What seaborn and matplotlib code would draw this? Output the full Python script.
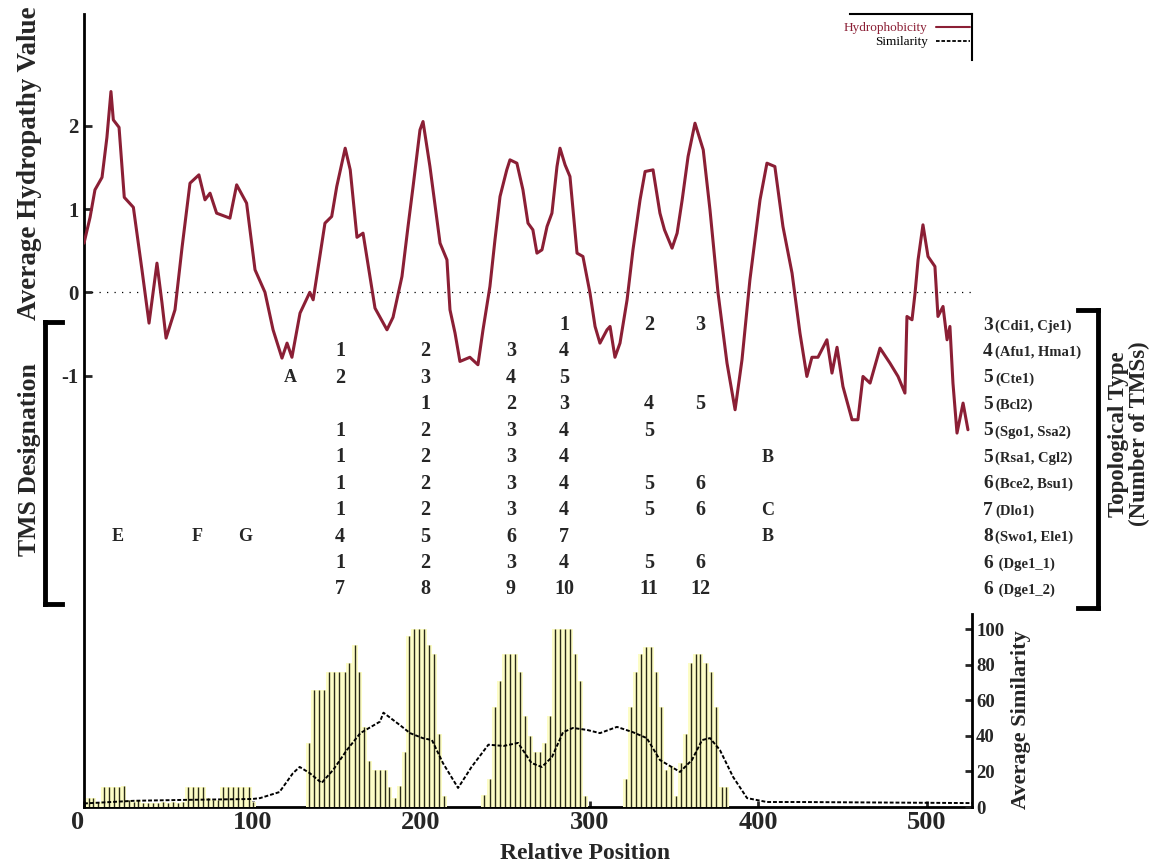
import matplotlib
matplotlib.use("Agg")
import matplotlib.pyplot as plt
import seaborn as sns
from matplotlib.lines import Line2D

# ---------------- data ----------------
hydro_pos = [0, 3.6, 6.5, 10.7, 13.6, 16, 17.4, 20.8, 23.9, 29.3,
             34.4, 38.6, 43.3, 46.3, 48.7, 54, 58.2, 62.9, 68.2, 71.8,
             74.8, 78.7, 86.6, 90.6, 96.5, 101.5, 107.4, 112.2, 117.5, 120.5,
             123.4, 128.2, 134, 136, 143, 147, 150, 155, 158, 162,
             165.6, 169.7, 172.7, 179.8, 183.4, 188.7, 192.3, 195.3, 199.4, 201.2,
             205.3, 211.3, 215.4, 217.2, 220.2, 223.1, 229, 233.8, 236.8, 240.9,
             243.9, 246.9, 250.9, 252.8, 256.9, 260.5, 263.5, 266.4, 268.8, 271.8,
             274.8, 277.7, 280.7, 282.5, 285.5, 288.4, 292.6, 296.1, 300.3, 303.3,
             306.2, 310.4, 312.2, 315.1, 318.1, 322.3, 325.8, 330, 333, 337.7,
             341.8, 344.5, 349, 352, 355, 358.5, 362.6, 367.5, 371.5, 376.3,
             381.6, 386.4, 390.5, 395.2, 401.2, 405.3, 410, 414.8, 420.2, 424.9,
             429, 432, 435.6, 440.9, 443.9, 446.9, 450.4, 455.8, 459.3, 462.3,
             466.5, 472.4, 478.3, 483.1, 487.2, 488.4, 491.4, 493.2, 495, 497.9,
             500.9, 505, 506.8, 509.8, 512.2, 513.9, 515.7, 518.1, 521.7, 524.6]
hydro_val = [0.59, 0.9, 1.23, 1.38, 1.86, 2.41, 2.07, 1.98, 1.14, 1.02,
             0.27, -0.37, 0.35, -0.13, -0.55, -0.21, 0.54, 1.31, 1.41, 1.11,
             1.19, 0.95, 0.89, 1.29, 1.07, 0.27, 0.0, -0.45, -0.79, -0.61,
             -0.78, -0.25, 0.0, -0.09, 0.83, 0.91, 1.27, 1.73, 1.47, 0.66,
             0.71, 0.19, -0.19, -0.45, -0.3, 0.19, 0.79, 1.27, 1.95, 2.05,
             1.51, 0.59, 0.39, -0.21, -0.49, -0.83, -0.78, -0.87, -0.45, 0.07,
             0.63, 1.15, 1.47, 1.59, 1.55, 1.23, 0.83, 0.75, 0.47, 0.51,
             0.79, 0.95, 1.51, 1.73, 1.53, 1.39, 0.47, 0.43, -0.01, -0.41,
             -0.61, -0.45, -0.41, -0.78, -0.61, -0.09, 0.51, 1.11, 1.45, 1.47,
             0.95, 0.75, 0.53, 0.71, 1.11, 1.63, 2.03, 1.71, 0.99, -0.01,
             -0.85, -1.41, -0.81, 0.15, 1.11, 1.55, 1.51, 0.79, 0.23, -0.49,
             -1.01, -0.78, -0.78, -0.57, -0.97, -0.66, -1.13, -1.53, -1.53, -1.01,
             -1.09, -0.67, -0.85, -1.01, -1.21, -0.29, -0.33, -0.01, 0.39, 0.81,
             0.43, 0.31, -0.29, -0.17, -0.57, -0.41, -1.09, -1.69, -1.33, -1.65]

sim_bar_pos = [3, 5.3, 8.5, 11.9, 14.8, 17.8, 20.8, 23.5, 26.5, 29.5, 32,
               35, 38, 41, 44, 47, 50, 53, 56, 59,
               61.7, 64.7, 67.7, 70.6, 73.6, 76.6, 79.5, 82.5, 85.5, 88.4, 91.4, 94.4, 97.9, 100.3,
               133.5, 136.5, 139.5, 142.4, 145.4, 148.4, 151.3, 154.9, 157.3, 160.8,
               163.2, 166.2, 169.1, 172.7, 175.7, 178.6, 181, 184.6, 187.5,
               190.5, 192.9, 195.8, 198.8, 201.8, 204.7, 207.7, 210.7, 213.6,
               237.4, 240.9, 243.9, 246.9, 249.9, 252.8, 255.8, 258.8, 261.7, 264.7,
               267.7, 270.6, 273.6, 276.6, 279.5, 282.5, 285.5, 288.4, 291.4, 294.4, 297.3,
               321.7, 324.6, 327.6, 330.6, 333.5, 336.5, 339.5, 342.4, 345.4, 348.4,
               351.3, 354.3, 357.3, 360.2, 363.2, 365.6, 369.1, 372.1, 375.1, 378.6, 381]
sim_bar_val = [5, 5, 3, 11, 11, 11, 11, 12, 4, 3, 4,
               2, 2, 2, 2, 3, 2, 3, 2, 3,
               11, 11, 11, 11, 5, 4, 4, 11, 11, 11, 11, 11, 11, 3,
               36, 66, 66, 66, 76, 76, 76, 76, 81, 91,
               76, 45, 26, 21, 21, 21, 11, 5, 12,
               31, 96, 100, 100, 100, 91, 86, 41, 6,
               7, 16, 56, 71, 86, 86, 86, 76, 51, 40,
               31, 31, 36, 51, 100, 100, 100, 100, 86, 71, 6,
               16, 56, 76, 86, 90, 90, 76, 56, 21, 23,
               6, 25, 41, 81, 86, 86, 81, 76, 56, 11, 11]

sim_line_pos = [0, 30, 60, 100, 104.5, 116, 124, 128, 134, 141, 148, 156, 164,
                175.7, 177.7, 187.5, 193.5, 201, 206.5, 213, 222, 230, 240, 249,
                257.6, 265.6, 271.7, 277.7, 284.3, 290.2, 298.5, 306.2, 316.3, 325.8,
                334, 341.8, 353.7, 360.8, 366.8, 371.5, 377.4, 385.2, 393.5, 405.3, 425, 527]
sim_line_val = [2, 3.5, 4, 4.5, 5, 8.4, 19, 22.5, 19, 13.5, 21, 32, 41.5,
                48, 53, 46, 41.5, 38.7, 37.6, 24.7, 10.7, 22.5, 35, 34.3,
                36, 24.7, 22.5, 28, 42, 44.4, 43.3, 41.5, 45, 42,
                38.7, 26.4, 19.7, 26.4, 37.6, 38.7, 32, 16.9, 5, 2.8, 2.8, 2.2]

x_ticks = [0, 100, 200, 300, 400, 500]
hydro_ticks = [-1, 0, 1, 2]
sim_ticks = [0, 20, 40, 60, 80, 100]

topo_counts = ["3", "4", "5", "5", "5", "5", "6", "7", "8", "6", "6"]
topo_names = ["(Cdi1, Cje1)", "(Afu1, Hma1)", "(Cte1)", "(Bcl2)", "(Sgo1, Ssa2)",
              "(Rsa1, Cgl2)", "(Bce2, Bsu1)", "(Dlo1)", "(Swo1, Ele1)",
              " (Dge1_1)", " (Dge1_2)"]
tms_grid = [
    ["", "", "", "", "", "", "", "1", "2", "3", ""],
    ["", "", "", "", "1", "2", "3", "4", "", "", ""],
    ["", "", "", "A", "2", "3", "4", "5", "", "", ""],
    ["", "", "", "", "", "1", "2", "3", "4", "5", ""],
    ["", "", "", "", "1", "2", "3", "4", "5", "", ""],
    ["", "", "", "", "1", "2", "3", "4", "", "", "B"],
    ["", "", "", "", "1", "2", "3", "4", "5", "6", ""],
    ["", "", "", "", "1", "2", "3", "4", "5", "6", "C"],
    ["E", "F", "G", "", "4", "5", "6", "7", "", "", "B"],
    ["", "", "", "", "1", "2", "3", "4", "5", "6", ""],
    ["", "", "", "", "7", "8", "9", "10", "11", "12", ""],
]

# ---------------- style ----------------
sns.set_theme(style="white")
plt.rcParams["font.family"] = ["Liberation Serif", "DejaVu Serif"]
plt.rcParams["font.weight"] = "bold"

HYDRO_COLOR = "#8b1f35"
W, H = 1157, 863


def fx(px):
    return px / W


def fy(py):
    return 1 - py / H


fig = plt.figure(figsize=(W / 100, H / 100), dpi=100)
fig.patch.set_facecolor("white")

# layout (pixel geometry of the plotting area)
X0, X1 = 84, 972
Y_TOP, Y_BOT = 14, 807
ZERO_PY, PX_PER_UNIT = 292.3, 83.3
SIM_TOP = 614
SIM_PX_PER_UNIT = 1.78
XMAX = 527

ax1 = fig.add_axes([fx(X0), fy(Y_BOT), fx(X1) - fx(X0), fy(Y_TOP) - fy(Y_BOT)])
ax1.set_facecolor("none")
ax2 = fig.add_axes([fx(X0), fy(Y_BOT), fx(X1) - fx(X0), fy(SIM_TOP) - fy(Y_BOT)], sharex=ax1)
ax2.set_facecolor("none")

ax1.set_xlim(0, XMAX)
ax1.set_ylim((ZERO_PY - Y_BOT) / PX_PER_UNIT, (ZERO_PY - Y_TOP) / PX_PER_UNIT)
ax2.set_ylim(0, (Y_BOT - SIM_TOP) / SIM_PX_PER_UNIT)

# hydropathy curve
ax1.axhline(0, color="black", lw=0.9, ls=(0, (1, 5)), zorder=1)
sns.lineplot(x=hydro_pos, y=hydro_val, ax=ax1, color=HYDRO_COLOR, lw=2.2,
             estimator=None, sort=False, zorder=3)

# similarity bars + line
ax2.bar(sim_bar_pos, sim_bar_val, width=3.1, color="#fdfdc6", linewidth=0, zorder=1)
ax2.vlines(sim_bar_pos, 0, sim_bar_val, color="#2a2a18", lw=1.0, zorder=2)
sns.lineplot(x=sim_line_pos, y=sim_line_val, ax=ax2, color="black", lw=1.4,
             linestyle=(0, (2, 1)), estimator=None, sort=False, zorder=3)

# spines / ticks ax1
for s in ["left", "bottom"]:
    ax1.spines[s].set_linewidth(2)
    ax1.spines[s].set_color("black")
ax1.spines["top"].set_linewidth(1.5)
ax1.spines["top"].set_color("black")
ax1.spines["top"].set_bounds((850 - X0) / ((X1 - X0) / XMAX), XMAX)
ax1.spines["right"].set_linewidth(1.5)
ax1.spines["right"].set_color("black")
ax1.spines["right"].set_bounds((ZERO_PY - 60) / PX_PER_UNIT, (ZERO_PY - Y_TOP) / PX_PER_UNIT)

ax1.set_xticks(x_ticks)
ax1.set_xticklabels([str(v) for v in x_ticks], fontsize=19, fontweight="bold")
ax1.get_xticklabels()[0].set_horizontalalignment("right")
ax1.set_yticks(hydro_ticks)
ax1.set_yticklabels([str(v) for v in hydro_ticks], fontsize=15, fontweight="bold")
ax1.tick_params(axis="x", direction="in", length=4, width=2, pad=3, bottom=True)
ax1.tick_params(axis="y", direction="in", length=6, width=2, pad=4, left=True)
ax1.set_xlabel("")
ax1.set_ylabel("")

# spines / ticks ax2
for s in ["left", "top", "bottom"]:
    ax2.spines[s].set_visible(False)
ax2.spines["right"].set_visible(True)
ax2.spines["right"].set_linewidth(2)
ax2.spines["right"].set_color("black")
ax2.yaxis.tick_right()
ax2.set_yticks(sim_ticks)
ax2.set_yticklabels([str(v) for v in sim_ticks], fontsize=13.5, fontweight="bold")
ax2.tick_params(axis="y", direction="in", length=5, width=2, pad=3, right=True, left=False)
ax2.tick_params(axis="x", bottom=False, labelbottom=False)
ax2.set_xlabel("")
ax2.set_ylabel("")

# legend
handles = [Line2D([], [], color=HYDRO_COLOR, lw=1.5),
           Line2D([], [], color="black", lw=1.3, ls=(0, (2, 1)))]
leg = fig.legend(handles, ["Hydrophobicity", "Similarity"], loc="upper right",
                 bbox_to_anchor=(fx(970), fy(22)), frameon=False, markerfirst=False,
                 prop={"family": "Liberation Serif", "weight": "normal", "size": 9.5},
                 handlelength=2.6, handletextpad=0.6, labelspacing=0.15, borderaxespad=0,
                 borderpad=0)
leg.get_texts()[0].set_color(HYDRO_COLOR)
leg.get_texts()[1].set_color("black")

# axis titles
fig.text(fx(30), fy(163), "Average Hydropathy Value", rotation=90, ha="center", va="center",
         fontsize=19.5, fontweight="bold")
fig.text(fx(30), fy(460), "TMS Designation", rotation=90, ha="center", va="center",
         fontsize=18.5, fontweight="bold")
fig.text(fx(585), fy(853), "Relative Position", ha="center", va="center",
         fontsize=17, fontweight="bold")
fig.text(fx(1021), fy(720), "Average Similarity", rotation=90, ha="center", va="center",
         fontsize=16, fontweight="bold")
fig.text(fx(1129), fy(434), "Topological Type\n(Number of TMSs)", rotation=90, ha="center",
         va="center", fontsize=16.5, fontweight="bold", linespacing=1.0, multialignment="center")

# TMS designation grid
col_px = [118, 197, 245, 290, 340, 425, 511, 564, 649, 700, 768]
row0_py, row_step = 325, 26.45
for i, row in enumerate(tms_grid):
    py = row0_py + row_step * i
    for j, lab in enumerate(row):
        if lab:
            size = 13 if lab.isalpha() else 14.5
            fig.text(fx(col_px[j]), fy(py), lab, ha="center", va="center",
                     fontsize=size, fontweight="bold")
    fig.text(fx(983), fy(py), topo_counts[i], ha="left", va="center",
             fontsize=14, fontweight="bold")
    fig.text(fx(995), fy(py + 1), topo_names[i], ha="left", va="center",
             fontsize=10.5, fontweight="bold")

# brackets
def seg(x_a, y_a, x_b, y_b):
    fig.add_artist(Line2D([fx(x_a), fx(x_b)], [fy(y_a), fy(y_b)], color="black", lw=3.5,
                          solid_capstyle="projecting", transform=fig.transFigure))

seg(45, 322, 45, 604)
seg(45, 322, 62, 322)
seg(45, 604, 62, 604)
seg(1098, 310, 1098, 608)
seg(1078, 310, 1098, 310)
seg(1078, 608, 1098, 608)

fig.savefig("out.png", dpi=100)
